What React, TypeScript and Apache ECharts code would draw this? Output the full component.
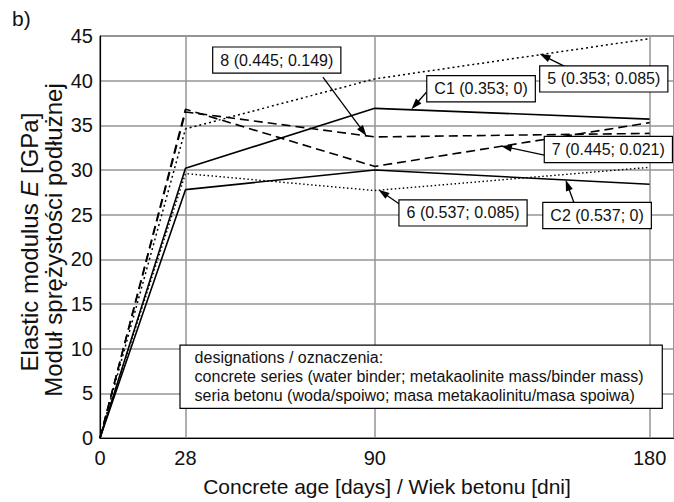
import React, { useEffect, useRef } from 'react';
import * as echarts from 'echarts';

// ---- data ----
const ages = [0, 28, 90, 180];
const xTickValues = [0, 28, 90, 180];
const seriesNames = ['C1 (0.353; 0)', 'C2 (0.537; 0)', '5 (0.353; 0.085)', '6 (0.537; 0.085)', '7 (0.445; 0.021)', '8 (0.445; 0.149)'];
const valuesC1 = [0, 30.2, 36.9, 35.7];
const valuesC2 = [0, 27.8, 30.0, 28.4];
const values5 = [0, 34.6, 40.2, 44.7];
const values6 = [0, 29.6, 27.7, 30.3];
const values7 = [0, 36.8, 30.4, 35.3];
const values8 = [0, 36.5, 33.7, 34.1];
const noteLines = [
  'designations / oznaczenia:',
  'concrete series (water binder; metakaolinite mass/binder mass)',
  'seria betonu (woda/spoiwo; masa metakaolinitu/masa spoiwa)',
];
const xName = 'Concrete age [days] / Wiek betonu [dni]';
const yName1 = 'Elastic modulus {i|E} [GPa]';
const yName2 = 'Moduł sprężystości podłużnej';

// ---- annotation layout (data coordinates) ----
const annotations = [
  { label: seriesNames[5], box: [57.9, 42.3], from: [73.0, 40.4], to: [87.3, 33.8] },
  { label: seriesNames[0], box: [124.8, 39.1], from: [106.9, 38.7], to: [102.0, 36.8] },
  { label: seriesNames[2], box: [165.0, 40.2], from: [152.2, 41.6], to: [144.0, 43.0] },
  { label: seriesNames[4], box: [166.5, 32.3], from: [146.3, 31.6], to: [131.3, 32.7] },
  { label: seriesNames[1], box: [162.8, 24.9], from: [155.4, 26.2], to: [152.5, 28.9] },
  { label: seriesNames[3], box: [118.9, 25.2], from: [98.4, 26.1], to: [91.2, 27.8] },
];
const noteAnchor = [26.4, 10.33];

const FONT = "'Liberation Sans', Arial, Helvetica, sans-serif";

export default function App() {
  const ref = useRef<HTMLDivElement>(null);
  useEffect(() => {
    const chart = echarts.init(ref.current!, null, { renderer: 'svg' });
    const mk = (name: string, values: number[], type: any, width: number) => ({
      name,
      type: 'line',
      data: ages.map((a, i) => [a, values[i]]),
      symbol: 'none',
      showSymbol: false,
      silent: true,
      z: 3,
      lineStyle: { color: '#000', width, type },
    });
    chart.setOption({
      animation: false,
      backgroundColor: '#fff',
      title: {
        text: 'b)',
        left: 7,
        top: 3,
        textStyle: { fontSize: 21, fontWeight: 'normal', color: '#111', fontFamily: FONT },
      },
      grid: { left: 100, top: 36, right: -3, bottom: 61, show: true, borderColor: '#333', borderWidth: 1 },
      xAxis: {
        type: 'value',
        min: 0,
        max: 188,
        name: xName,
        nameLocation: 'middle',
        nameGap: 38,
        nameTextStyle: { fontSize: 21, color: '#111', fontFamily: FONT },
        axisLine: { lineStyle: { color: '#000', width: 1.2 } },
        axisTick: { show: false, customValues: xTickValues },
        axisLabel: { customValues: xTickValues, fontSize: 20, color: '#111', fontFamily: FONT, margin: 10 },
        splitLine: { show: true, lineStyle: { color: '#959595', width: 1.5 } },
      },
      yAxis: {
        type: 'value',
        min: 0,
        max: 45,
        interval: 5,
        axisLine: { show: true, lineStyle: { color: '#000', width: 1.2 } },
        axisTick: { show: false },
        axisLabel: { fontSize: 20, color: '#111', fontFamily: FONT, margin: 7 },
        splitLine: { show: true, lineStyle: { color: '#959595', width: 1.5 } },
      },
      series: [
        mk(seriesNames[0], valuesC1, 'solid', 1.6),
        mk(seriesNames[1], valuesC2, 'solid', 1.6),
        mk(seriesNames[2], values5, [2, 3], 1.5),
        mk(seriesNames[3], values6, [1.5, 2.5], 1.4),
        mk(seriesNames[4], values7, [9, 5], 1.6),
        mk(seriesNames[5], values8, [9, 5], 1.6),
      ],
    });

    const px = (p: number[]) => chart.convertToPixel({ gridIndex: 0 }, p) as number[];
    const graphics: any[] = [];
    annotations.forEach((a) => {
      const c = px(a.box);
      const s = px(a.from);
      const e = px(a.to);
      const dx = e[0] - s[0];
      const dy = e[1] - s[1];
      const len = Math.hypot(dx, dy);
      const ux = dx / len;
      const uy = dy / len;
      const hl = 11;
      const hw = 3.6;
      const bx = e[0] - ux * hl;
      const by = e[1] - uy * hl;
      graphics.push({
        type: 'line',
        z: 20,
        silent: true,
        shape: { x1: s[0], y1: s[1], x2: e[0] - ux * 6, y2: e[1] - uy * 6 },
        style: { stroke: '#000', lineWidth: 1.3 },
      });
      graphics.push({
        type: 'polygon',
        z: 20,
        silent: true,
        shape: { points: [[e[0], e[1]], [bx - uy * hw, by + ux * hw], [bx + uy * hw, by - ux * hw]] },
        style: { fill: '#000' },
      });
      graphics.push({
        type: 'text',
        z: 21,
        silent: true,
        x: c[0],
        y: c[1],
        style: {
          text: a.label,
          fontSize: 16,
          fontFamily: FONT,
          fill: '#111',
          align: 'center',
          verticalAlign: 'middle',
          backgroundColor: '#fff',
          borderColor: '#000',
          borderWidth: 1.2,
          padding: [4, 7, 4, 7],
          lineHeight: 17,
        },
      });
    });
    const n = px(noteAnchor);
    graphics.push({
      type: 'text',
      z: 21,
      silent: true,
      x: n[0],
      y: n[1],
      style: {
        text: noteLines.join('\n'),
        fontSize: 16,
        fontFamily: FONT,
        fill: '#111',
        align: 'left',
        verticalAlign: 'top',
        backgroundColor: '#fff',
        borderColor: '#000',
        borderWidth: 1.2,
        padding: [2, 18, 3, 14],
        lineHeight: 19,
      },
    });
    graphics.push({
      type: 'text',
      silent: true,
      x: 29,
      y: 242,
      rotation: Math.PI / 2,
      style: {
        text: yName1,
        fontSize: 24,
        fontFamily: FONT,
        fill: '#111',
        align: 'center',
        verticalAlign: 'middle',
        rich: { i: { fontStyle: 'italic', fontSize: 24, fontFamily: FONT, fill: '#111' } },
      },
    });
    graphics.push({
      type: 'text',
      silent: true,
      x: 53,
      y: 240,
      rotation: Math.PI / 2,
      style: {
        text: yName2,
        fontSize: 24,
        fontFamily: FONT,
        fill: '#111',
        align: 'center',
        verticalAlign: 'middle',
      },
    });
    chart.setOption({ graphic: graphics });
    return () => chart.dispose();
  }, []);
  return <div ref={ref} style={{ position: 'fixed', left: 0, top: 0, width: 674, height: 502 }} />;
}
